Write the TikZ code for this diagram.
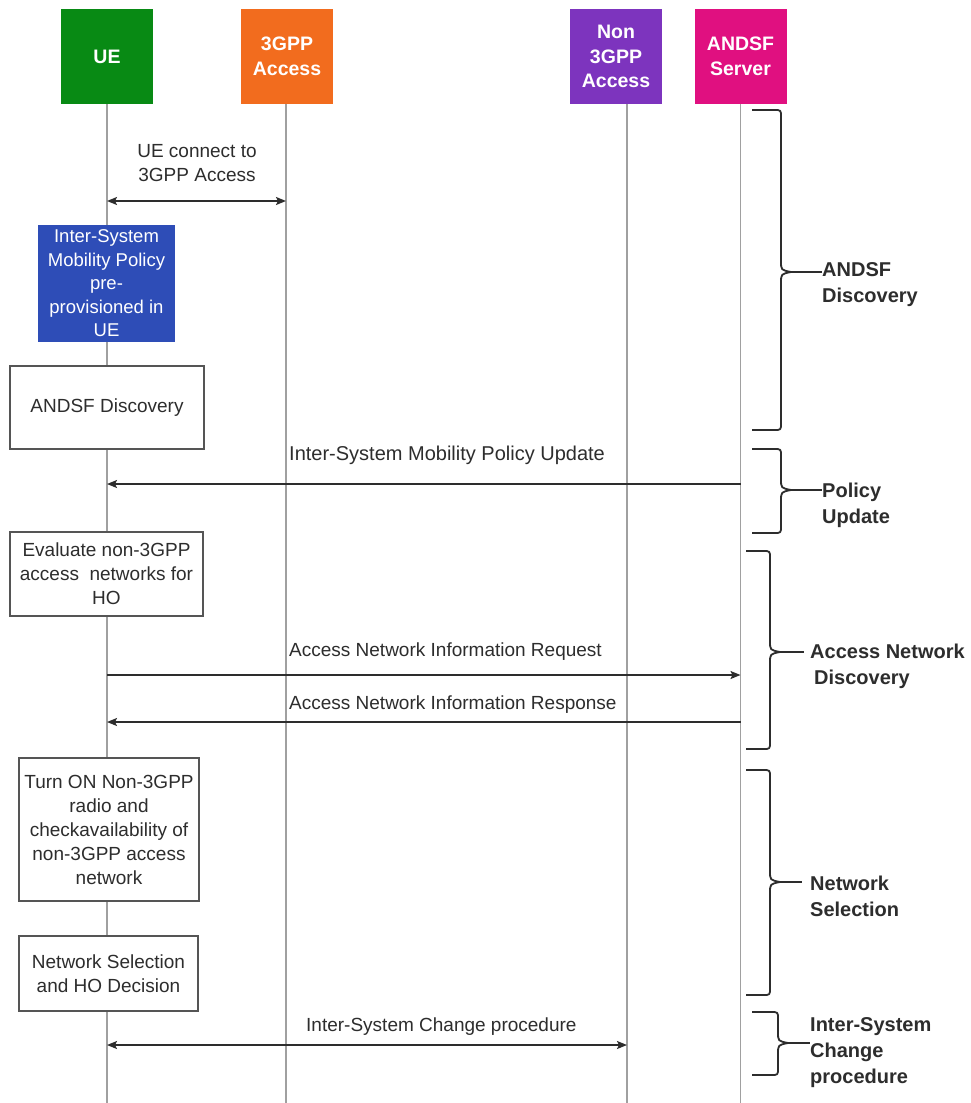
\documentclass[tikz,border=0pt]{standalone}
\usepackage{fontspec}
\setmainfont{Liberation Sans}
\usetikzlibrary{arrows.meta}
\definecolor{uegreen}{RGB}{8,138,20}
\definecolor{gppor}{RGB}{242,108,30}
\definecolor{nonpur}{RGB}{125,52,190}
\definecolor{andsfmag}{RGB}{224,16,128}
\definecolor{polblue}{RGB}{46,77,183}
\definecolor{lifegray}{RGB}{160,160,160}
\definecolor{ink}{RGB}{45,45,45}
\definecolor{boxgray}{RGB}{85,85,85}
\newcommand\sbrace[6]{% e, s, t, a, b, m
  \draw[bracestyle] (#1,#4) -- (#2-7,#4) .. controls (#2,#4) .. (#2,#4+7) -- (#2,#6-11)
    .. controls (#2,#6-2) .. (#3,#6) .. controls (#2,#6+2) .. (#2,#6+11) -- (#2,#5-7)
    .. controls (#2,#5) .. (#2-7,#5) -- (#1,#5);}
\begin{document}
\begin{tikzpicture}[x=1pt,y=-1pt,
  header/.style={fill=#1, text=white, font=\bfseries\fontsize{19.5}{24.5}\selectfont, align=center,
    minimum width=92, minimum height=95, inner sep=0pt},
  lifeline/.style={draw=lifegray, line width=1.5pt},
  msg/.style={draw=ink, line width=1.6pt},
  lbl/.style={text=ink, font=\fontsize{19}{23.5}\selectfont, inner sep=0pt},
  procbox/.style={draw=boxgray, line width=1.3pt, fill=white, text=ink, align=center,
    font=\fontsize{19}{24}\selectfont, inner sep=0pt},
  blubox/.style={fill=polblue, text=white, align=center,
    font=\fontsize{18.5}{23.5}\selectfont, inner sep=0pt},
  bracestyle/.style={draw=ink, line width=1.8pt, line join=round},
  tick/.style={draw=ink, line width=1.8pt},
  blbl/.style={text=ink, font=\bfseries\fontsize{20}{26}\selectfont, align=left, inner sep=0pt, anchor=west},
  >={Stealth[length=10pt,width=8pt,inset=2pt]}
]
\useasboundingbox (0,0) rectangle (970,1103);
\fill[white] (0,0) rectangle (970,1103);
\coordinate (bot) at (0,1103);

% headers
\node[header=uegreen] (ue) at (107,56.5) {UE};
\node[header=gppor] (g3) at (287,56.5) {3GPP\\Access};
\node[header=nonpur] (n3) at (616,56.5) {Non\\3GPP\\Access};
\node[header=andsfmag] (an) at (740.5,56.5) {ANDSF\\Server};
\coordinate (n3l) at ([xshift=11pt]n3.south);
\coordinate (g3l) at ([xshift=-1pt]g3.south);

% lifelines
\draw[lifeline] (ue.south) -- (ue.south |- bot);
\draw[lifeline] (g3l) -- (g3l |- bot);
\draw[lifeline] (n3l) -- (n3l |- bot);
\draw[lifeline] (an.south) -- (an.south |- bot);

% UE connect
\node[lbl, align=center] (t1) at (197,163) {UE connect to\\3GPP Access};
\draw[msg, <->] (ue.south |- 0,201) -- (g3l |- 0,201);

% boxes on UE lifeline
\node[blubox, minimum width=137, minimum height=117] (pol) at (106.5,283.5)
  {Inter-System\\Mobility Policy\\pre-\\provisioned in\\UE};
\node[procbox, minimum width=194, minimum height=83] (disc) at (107,407.5) {ANDSF Discovery};

% policy update
\node[lbl, anchor=west, font=\fontsize{20}{24}\selectfont] (t2) at (289,455) {Inter-System Mobility Policy Update};
\draw[msg, ->] (an.south |- 0,484) -- (ue.south |- 0,484);

\node[procbox, minimum width=193, minimum height=84] (eval) at (106.5,574)
  {Evaluate non-3GPP\\access\ \ networks for\\HO};

% access network info
\node[lbl, anchor=west] (t3) at (289,652) {Access Network Information Request};
\draw[msg, ->] (ue.south |- 0,675) -- (an.south |- 0,675);
\node[lbl, anchor=west] (t4) at (289,705) {Access Network Information Response};
\draw[msg, ->] (an.south |- 0,722) -- (ue.south |- 0,722);

\node[procbox, minimum width=180, minimum height=143] (turn) at (109,829.5)
  {Turn ON Non-3GPP\\radio and\\checkavailability of\\non-3GPP access\\network};
\node[procbox, minimum width=179, minimum height=75] (nsel) at (108.5,973.5)
  {Network Selection\\and HO Decision};

% inter-system change
\node[lbl, anchor=west] (t5) at (306,1027) {Inter-System Change procedure};
\draw[msg, <->] (ue.south |- 0,1045) -- (n3l |- 0,1045);

% braces and labels
\sbrace{752}{781}{791}{110}{430}{272}
\node[blbl] (b1) at (822,285) {ANDSF\\Discovery};
\draw[tick] (791,272) -- (b1.west |- 0,272);

\sbrace{752}{781}{791}{449}{533}{490}
\node[blbl] (b2) at (822,505) {Policy\\Update};
\draw[tick] (791,490) -- (b2.west |- 0,490);

\sbrace{746}{770}{780}{551}{749}{652}
\node[blbl] (b3) at (810,666) {Access Network\\\hspace*{4pt}Discovery};
\draw[tick] (780,652) -- ([xshift=-6pt]b3.west |- 0,652);

\sbrace{746}{770}{780}{770}{995}{882}
\node[blbl] (b4) at (810,896) {Network\\Selection};
\draw[tick] (780,882) -- ([xshift=-8pt]b4.west |- 0,882);

\sbrace{752}{778}{788}{1012}{1075}{1043}
\node[blbl] (b5) at (810,1053) {Inter-System\\Change\\procedure};
\draw[tick] (788,1043) -- (b5.west |- 0,1043);
\end{tikzpicture}
\end{document}
